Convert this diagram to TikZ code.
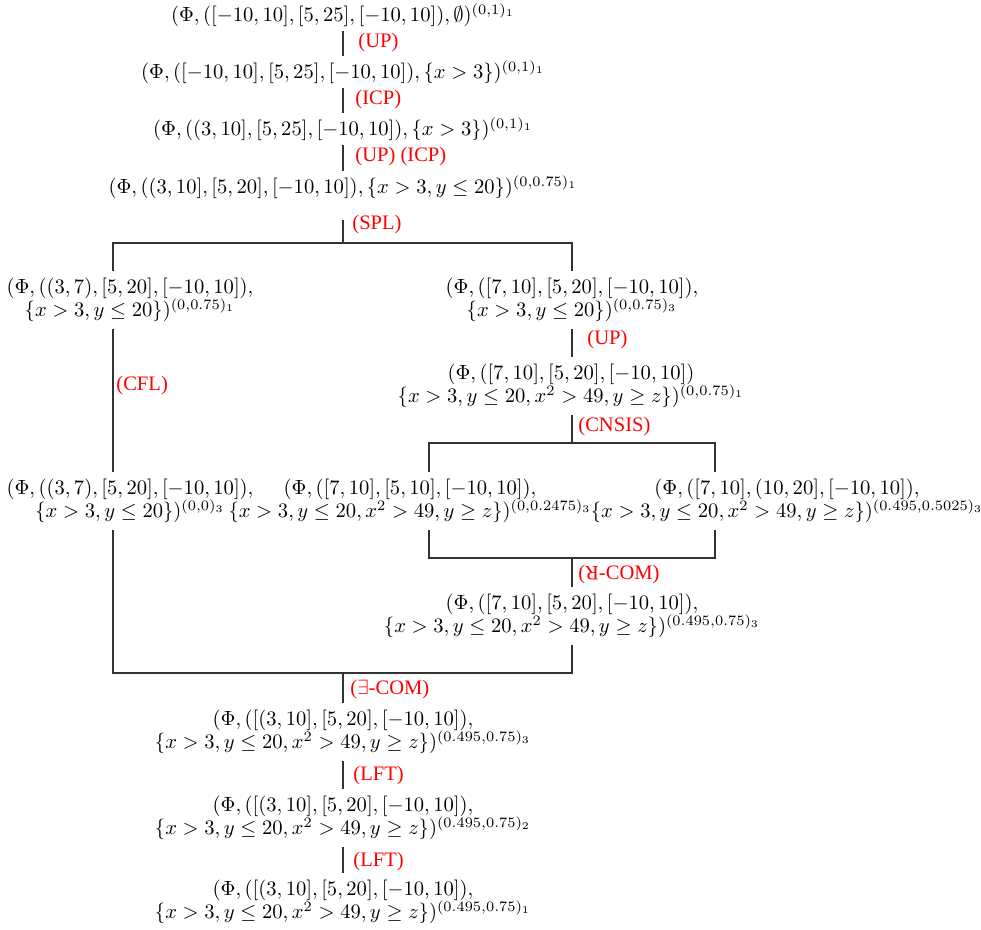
\documentclass[tikz,border=0pt]{standalone}
\usepackage{fontspec}
\newfontfamily\lblfont{Liberation Serif}
% fixed line pitch for the two-line states
\newcommand\statefont{\fontsize{9.93}{11.1}\selectfont\lineskiplimit-10pt\relax}
\begin{document}
\begin{tikzpicture}[x=0.486pt,y=-0.486pt,
  st/.style={inner xsep=0pt,inner ysep=2pt,align=center,font=\statefont},
  st2/.style={st,inner ysep=3.5pt},
  rule/.style={text=red,font=\lblfont\fontsize{10}{12}\selectfont,anchor=west,inner sep=0pt},
  edge/.style={line width=0.5pt,draw=black!80}]
\useasboundingbox (0,0) rectangle (981,930);

% main trunk
\node[st] (r1) at (343,15) {$(\Phi,([-10,10],[5,25],[-10,10]),\emptyset)^{(0,1)_1}$};
\node[st] (r2) at (343,72) {$(\Phi,([-10,10],[5,25],[-10,10]),\{x>3\})^{(0,1)_1}$};
\node[st] (r3) at (343,129) {$(\Phi,((3,10],[5,25],[-10,10]),\{x>3\})^{(0,1)_1}$};
\node[st] (r4) at (343,187) {$(\Phi,((3,10],[5,20],[-10,10]),\{x>3,y\leq 20\})^{(0,0.75)_1}$};

% after the split
\node[st2] (r5l) at (130,300) {$(\Phi,((3,7),[5,20],[-10,10]),$\\$\{x>3,y\leq 20\})^{(0,0.75)_1}$};
\node[st2] (r5r) at (572,300) {$(\Phi,([7,10],[5,20],[-10,10]),$\\$\{x>3,y\leq 20\})^{(0,0.75)_3}$};
\node[st2] (r6r) at (571,386) {$(\Phi,([7,10],[5,20],[-10,10])$\\$\{x>3,y\leq 20,x^2>49,y\geq z\})^{(0,0.75)_1}$};
\node[st2] (r7l) at (130,501) {$(\Phi,((3,7),[5,20],[-10,10]),$\\$\{x>3,y\leq 20\})^{(0,0)_3}$};
\node[st2] (r7m) at (410,501) {$(\Phi,([7,10],[5,10],[-10,10]),$\\$\{x>3,y\leq 20,x^2>49,y\geq z\})^{(0,0.2475)_3}$};
\node[st2] (r7r) at (787,501) {$(\Phi,([7,10],(10,20],[-10,10]),$\\$\{x>3,y\leq 20,x^2>49,y\geq z\})^{(0.495,0.5025)_3}$};
\node[st2] (r8) at (572,616) {$(\Phi,([7,10],[5,20],[-10,10]),$\\$\{x>3,y\leq 20,x^2>49,y\geq z\})^{(0.495,0.75)_3}$};

% merged trunk
\node[st2] (r9) at (343,732) {$(\Phi,([(3,10],[5,20],[-10,10]),$\\$\{x>3,y\leq 20,x^2>49,y\geq z\})^{(0.495,0.75)_3}$};
\node[st2] (r10) at (343,818) {$(\Phi,([(3,10],[5,20],[-10,10]),$\\$\{x>3,y\leq 20,x^2>49,y\geq z\})^{(0.495,0.75)_2}$};
\node[st2] (r11) at (343,902) {$(\Phi,([(3,10],[5,20],[-10,10]),$\\$\{x>3,y\leq 20,x^2>49,y\geq z\})^{(0.495,0.75)_1}$};

% junction points
\coordinate (sm) at (343,243);
\coordinate (tl) at (113,243);
\coordinate (tr) at (572,243);
\coordinate (cm) at (572,443);
\coordinate (cl) at (429,443);
\coordinate (cr) at (715,443);
\coordinate (dl) at (429,558);
\coordinate (dm) at (572,558);
\coordinate (dr) at (715,558);
\coordinate (bl) at (113,673);
\coordinate (bm) at (343,673);
\coordinate (br) at (572,673);

% connectors
\draw[edge] (r1.south) -- (r2.north);
\draw[edge] (r2.south) -- (r3.north);
\draw[edge] (r3.south) -- (r4.north);
\draw[edge,shorten <=8pt] (r4.south) -- (sm);
\draw[edge] (tl |- r5l.north) -- (tl) -- (tr) -- (r5r.north);
\draw[edge] (r5l.south -| tl) -- (r7l.north -| tl);
\draw[edge] (r5r.south) -- (r6r.north -| r5r.south);
\draw[edge] (r6r.south -| cm) -- (cm);
\draw[edge] (cl |- r7m.north) -- (cl) -- (cr) -- (cr |- r7r.north);
\draw[edge] (r7m.south -| cl) -- (dl) -- (dr) -- (r7r.south -| cr);
\draw[edge] (dm) -- (r8.north -| dm);
\draw[edge] (r7l.south -| bl) -- (bl) -- (br) -- (r8.south -| br);
\draw[edge] (bm) -- (r9.north);
\draw[edge] (r9.south) -- (r10.north);
\draw[edge] (r10.south) -- (r11.north);

% rule labels
\node[rule] (l1) at (358,43) {(UP)};
\node[rule] (l2) at (355,100) {(ICP)};
\node[rule] (l3) at (355,157) {(UP) (ICP)};
\node[rule] (l4) at (352,225) {(SPL)};
\node[rule] (l5) at (116,386) {(CFL)};
\node[rule] (l6) at (587,340) {(UP)};
\node[rule] (l7) at (578,427) {(CNSIS)};
\node[rule] (l8) at (578,575) {(\rotatebox[origin=c]{180}{R}-COM)};
\node[rule] (l9) at (350,690) {($\exists$-COM)};
\node[rule] (l10) at (353,776) {(LFT)};
\node[rule] (l11) at (353,862) {(LFT)};
\end{tikzpicture}
\end{document}
